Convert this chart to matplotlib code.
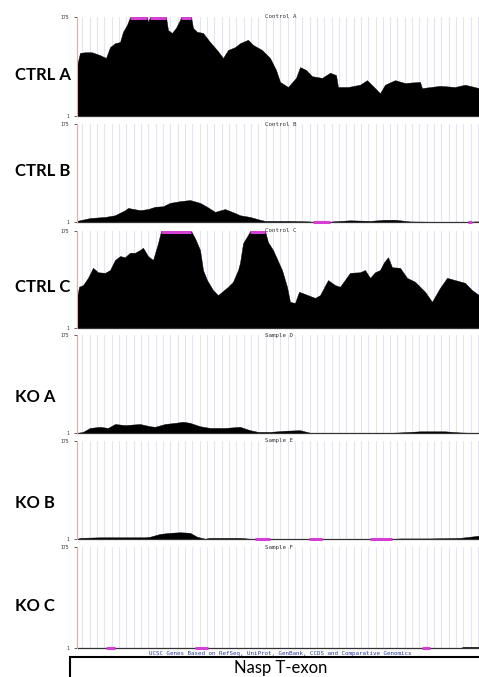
import numpy as np
import matplotlib.pyplot as plt
from matplotlib.patches import Rectangle
import matplotlib.transforms as mtransforms

W, H = 479, 677

# track names
track_labels = ['CTRL A', 'CTRL B', 'CTRL C', 'KO A', 'KO B', 'KO C']
track_titles = ['Control A', 'Control B', 'Control C', 'Sample D', 'Sample E', 'Sample F']
view_min, view_max = 1, 175

# coverage per track: (position in window, read depth)
ctrl_a_pos = [0, 3, 8, 15, 23, 29, 33, 38, 43, 46, 50, 53, 70, 71, 73, 89, 91, 95, 99, 103,
              104, 114, 116, 120, 126, 133, 140, 146, 151, 158, 163, 171, 176, 185, 193, 199,
              203, 211, 219, 223, 229, 235, 245, 253, 259, 261, 271, 283, 290, 298, 303, 308,
              318, 328, 343, 345, 363, 378, 388, 402]
ctrl_a_cov = [90, 112, 113, 113, 108, 103, 122, 129, 131, 149, 161, 175, 175, 166, 175, 175, 152, 147, 156, 170,
              175, 175, 156, 149, 147, 131, 117, 103, 117, 122, 129, 135, 126, 117, 103, 82,
              61, 52, 68, 87, 82, 71, 68, 77, 73, 52, 52, 56, 64, 50, 41, 56,
              64, 59, 61, 50, 54, 52, 56, 50]

ctrl_b_pos = [0, 13, 28, 38, 48, 51, 63, 71, 78, 86, 93, 103, 113, 123, 130, 138, 148, 158, 163,
              173, 183, 188, 213, 233, 236, 253, 255, 273, 293, 308, 318, 333, 353, 389, 391,
              395, 397, 402]
ctrl_b_cov = [3, 8, 10, 13, 22, 26, 22, 24, 28, 29, 35, 38, 40, 35, 28, 19, 24, 17, 13,
              10, 5, 3, 3, 2, 0, 0, 2, 4, 3, 5, 5, 2, 1.5, 1.5, 0,
              0, 2, 2]

ctrl_c_pos = [0, 2, 6, 11, 16, 21, 28, 33, 38, 43, 48, 53, 58, 63, 66, 71, 76, 81, 84, 114,
              118, 123, 126, 130, 136, 141, 145, 151, 156, 161, 163, 166, 171, 173, 188, 191,
              196, 205, 210, 213, 218, 222, 228, 238, 243, 251, 258, 263, 273, 283, 288, 293,
              298, 303, 307, 311, 315, 323, 330, 338, 348, 355, 363, 370, 378, 388, 395, 402]
ctrl_c_cov = [55, 75, 78, 91, 109, 101, 100, 105, 123, 130, 128, 136, 136, 141, 145, 130, 123, 153, 175, 175,
              162, 141, 105, 87, 69, 60, 66, 75, 84, 105, 118, 153, 168, 175, 175, 155,
              141, 105, 75, 48, 46, 66, 62, 55, 60, 87, 78, 75, 100, 101, 105, 91,
              101, 105, 119, 128, 110, 109, 91, 84, 66, 48, 73, 91, 87, 82, 69, 60]

ko_a_pos = [0, 6, 13, 23, 31, 38, 48, 63, 73, 78, 88, 98, 106, 113, 123, 133, 148, 163, 173,
            181, 193, 208, 223, 233, 253, 273, 298, 308, 323, 343, 368, 383, 402]
ko_a_cov = [1, 3, 10, 12, 10, 17, 15, 17, 13, 12, 17, 19, 21, 19, 13, 10, 10, 12, 6,
            3, 3, 5, 6, 1.5, 1, 1.5, 1, 1, 2, 4, 4, 2, 1]

ko_b_pos = [0, 3, 23, 68, 73, 83, 93, 103, 113, 120, 128, 133, 153, 163, 173, 177, 178, 193,
            195, 223, 232, 245, 247, 291, 293, 315, 317, 323, 353, 383, 393, 402]
ko_b_cov = [1, 3, 4, 4, 5, 10, 12, 13, 12, 5, 1.5, 3, 3, 3, 1.5, 1, 0, 0,
            1.2, 1.2, 0, 0, 1.2, 1.2, 0, 0, 1.5, 2, 2, 3, 5, 7]

ko_c_pos = [0, 28, 29, 38, 40, 117, 118, 131, 133, 343, 345, 353, 355, 384, 386, 402]
ko_c_cov = [1.2, 1.2, 0, 0, 1.2, 1.2, 0, 0, 1.2, 1.2, 0, 0, 1.2, 1.2, 3, 3]

tracks = [(ctrl_a_pos, ctrl_a_cov), (ctrl_b_pos, ctrl_b_cov), (ctrl_c_pos, ctrl_c_cov),
          (ko_a_pos, ko_a_cov), (ko_b_pos, ko_b_cov), (ko_c_pos, ko_c_cov)]

gene_track = 'UCSC Genes Based on RefSeq, UniProt, GenBank, CCDS and Comparative Genomics'
gene_name = 'Nasp T-exon'

# panel geometry in pixels
tops = [17, 124, 231, 335, 441, 547]
bottoms = [116, 222, 328, 433, 539, 648]
label_y = [75, 171, 287, 397, 503, 606]
left_px, right_px = 77, 480

MAGENTA = '#d63fd6'


def runs(pos, cov, test):
    out = []
    start = None
    last = None
    for p, c in zip(pos, cov):
        if test(c):
            if start is None:
                start = p
            last = p
        elif start is not None:
            out.append((start, last))
            start = None
    if start is not None:
        out.append((start, last))
    return out


fig = plt.figure(figsize=(W / 100, H / 100), dpi=100)

guides = np.arange(5.3, right_px - left_px, 7.33)

for i, (pos, cov) in enumerate(tracks):
    ax = fig.add_axes([left_px / W, 1 - bottoms[i] / H,
                       (right_px - left_px) / W, (bottoms[i] - tops[i]) / H])
    ax.set_xlim(0, right_px - left_px)
    ax.set_ylim(view_min, view_max)

    ax.set_xticks(guides)
    ax.tick_params(axis='x', length=0, labelbottom=False)
    ax.grid(axis='x', color='#e4e4f6', lw=0.8)
    ax.set_axisbelow(True)

    ax.fill_between(pos, view_min, cov, color='black', lw=0.3, edgecolor='black')
    ax.axhline(view_min, color='#333333', lw=0.9, clip_on=False)

    for a, b in runs(pos, cov, lambda c: c >= view_max):
        ax.hlines(view_max - 2, a, b, color=MAGENTA, lw=2.2)
    for a, b in runs(pos, cov, lambda c: c <= 0):
        ax.hlines(view_min, a, b, color=MAGENTA, lw=2.2, clip_on=False)

    ax.set_yticks([view_min, view_max])
    ax.set_yticklabels([str(view_min), str(view_max)], fontsize=3.5,
                       family='DejaVu Sans Mono', color='#333333')
    ax.tick_params(axis='y', length=2.5, width=0.6, pad=3, color='#444444')

    for s in ['top', 'right', 'bottom']:
        ax.spines[s].set_visible(False)
    ax.spines['left'].set_color('#f2a6a6')
    ax.spines['left'].set_linewidth(0.8)

    trans = mtransforms.blended_transform_factory(ax.transData, ax.transAxes)
    ax.text(188, 1.0, track_titles[i], transform=trans, fontsize=4.2,
            family='DejaVu Sans Mono', color='#333333', va='center', ha='left')

    fig.text(15 / W, 1 - label_y[i] / H, track_labels[i], fontsize=12,
             fontweight='bold', family='Lato', va='center', ha='left')

fig.text(280 / W, 1 - 653 / H, gene_track, fontsize=4.2, family='DejaVu Sans Mono',
         color='#2a3aa8', ha='center', va='center')

box = Rectangle((70 / W, -0.02), 1, 0.02 + (H - 657) / H, transform=fig.transFigure,
                facecolor='white', edgecolor='black', lw=1.5, clip_on=False)
fig.patches.append(box)
fig.text(281 / W, 1 - 668 / H, gene_name, fontsize=12, family='Lato',
         ha='center', va='center')

fig.savefig('out.png', dpi=100)
